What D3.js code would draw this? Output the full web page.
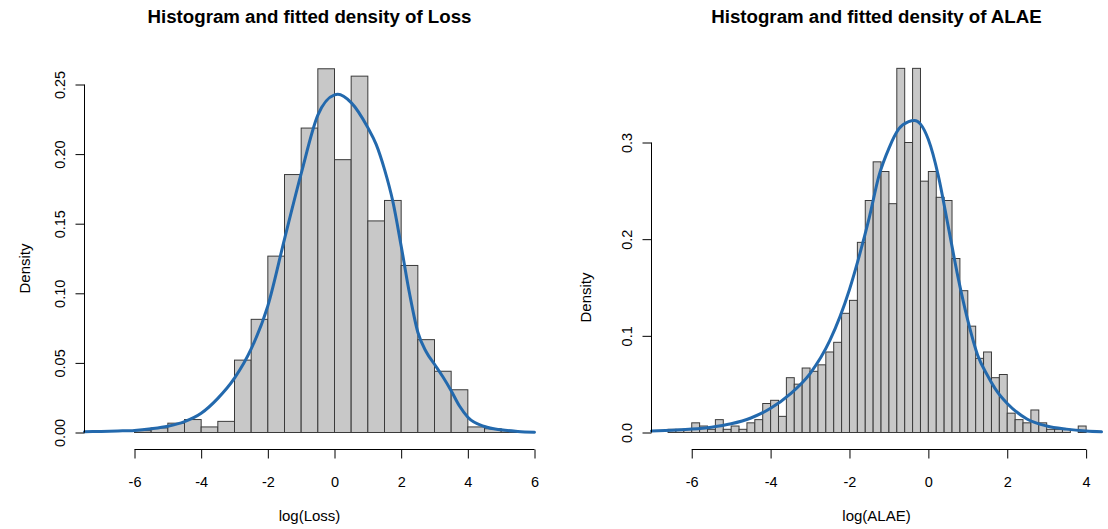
<!DOCTYPE html>
<html><head><meta charset="utf-8">
<script src="https://cdn.jsdelivr.net/npm/d3@7"></script>
<style>
body{margin:0;background:#fff}
svg{display:block}
text{font-family:"Liberation Sans",Arial,Helvetica,sans-serif;fill:#000}
</style>
</head><body>
<svg id="chart" width="1108" height="529"></svg>
<script>
// ---------- Data: Loss ----------
const lossBinStart = [-6,-5.5,-5,-4.5,-4,-3.5,-3,-2.5,-2,-1.5,-1,-0.5,0,0.5,1,1.5,2,2.5,3,3.5,4,4.5,5];
const lossDensity  = [0.0013,0.0033,0.0067,0.0093,0.0040,0.0080,0.0520,0.0813,0.1267,0.1853,0.2187,0.2613,0.1960,0.2560,0.1520,0.1667,0.1200,0.0667,0.0440,0.0307,0.0040,0.0027,0.0013];
const lossBinWidth = 0.5;
const lossCurveX = [-7.5,-7,-6.5,-6,-5.5,-5,-4.5,-4,-3.5,-3,-2.5,-2,-1.5,-1,-0.5,0,0.1,0.5,1,1.25,1.5,1.75,2,2.25,2.5,2.75,3,3.25,3.5,3.75,4,4.5,5,5.5,6];
const lossCurveY = [0.0005,0.0008,0.0011,0.0015,0.0027,0.0045,0.0078,0.0138,0.0245,0.039,0.06,0.091,0.139,0.186,0.228,0.2426,0.243,0.237,0.219,0.207,0.189,0.166,0.134,0.1,0.072,0.058,0.049,0.04,0.03,0.019,0.011,0.0043,0.0019,0.0008,0.0002];
const lossTicksX = [-6,-4,-2,0,2,4,6];
const lossTicksY = [0,0.05,0.10,0.15,0.20,0.25];

// ---------- Data: ALAE ----------
const alaeBinStart = [-6.6,-6.4,-6.2,-6.0,-5.8,-5.6,-5.4,-5.2,-5.0,-4.8,-4.6,-4.4,-4.2,-4.0,-3.8,-3.6,-3.4,-3.2,-3.0,-2.8,-2.6,-2.4,-2.2,-2.0,-1.8,-1.6,-1.4,-1.2,-1.0,-0.8,-0.6,-0.4,-0.2,0.0,0.2,0.4,0.6,0.8,1.0,1.2,1.4,1.6,1.8,2.0,2.2,2.4,2.6,2.8,3.0,3.2,3.4,3.6,3.8];
const alaeDensity  = [0.0033,0.0033,0.0033,0.0100,0.0067,0.0033,0.0133,0.0033,0.0067,0.0033,0.0100,0.0133,0.0300,0.0333,0.0167,0.0567,0.0500,0.0667,0.0633,0.0700,0.0833,0.0933,0.1233,0.1367,0.1967,0.2400,0.2800,0.2700,0.2367,0.3767,0.3000,0.3767,0.2600,0.2700,0.2433,0.2400,0.1800,0.1467,0.1100,0.0767,0.0833,0.0567,0.0600,0.0200,0.0133,0.0100,0.0233,0.0100,0.0033,0.0033,0.0033,0,0.0067];
const alaeBinWidth = 0.2;
const alaeCurveX = [-7.02,-6.5,-6,-5.5,-5,-4.5,-4,-3.5,-3,-2.5,-2,-1.75,-1.5,-1.25,-1,-0.75,-0.5,-0.35,-0.2,0,0.25,0.5,0.75,1,1.25,1.5,1.75,2,2.5,3,3.5,4,4.39];
const alaeCurveY = [0.0015,0.0024,0.0035,0.0055,0.009,0.015,0.025,0.04,0.061,0.095,0.148,0.183,0.222,0.266,0.294,0.314,0.3215,0.3227,0.319,0.303,0.266,0.214,0.161,0.116,0.08,0.059,0.042,0.03,0.014,0.0068,0.0035,0.0015,0.0007];
const alaeTicksX = [-6,-4,-2,0,2,4];
const alaeTicksY = [0,0.1,0.2,0.3];

const titles = ["Histogram and fitted density of Loss","Histogram and fitted density of ALAE"];
const xLabels = ["log(Loss)","log(ALAE)"];
const yLabel = "Density";

// ---------- Drawing ----------
const svg = d3.select("#chart");
const BAR_FILL = "#c8c8c8", BAR_STROKE = "#3a3a3a", CURVE = "#2369ad";

function panel(cfg){
  const g = svg.append("g");
  const x = d3.scaleLinear().domain(cfg.xDomain).range(cfg.xRange);
  const y = d3.scaleLinear().domain([0, cfg.yTicks[cfg.yTicks.length-1]]).range(cfg.yRange);
  const bins = cfg.binStart.map((s,i)=>({s, d: cfg.density[i]}));

  g.selectAll("rect.bar").data(bins).join("rect")
    .attr("class","bar")
    .attr("x", d=>x(d.s))
    .attr("width", d=>x(d.s+cfg.binWidth)-x(d.s))
    .attr("y", d=>y(d.d))
    .attr("height", d=>y(0)-y(d.d))
    .attr("fill", BAR_FILL)
    .attr("stroke", BAR_STROKE)
    .attr("stroke-width", 1);

  const pts = cfg.curveX.map((v,i)=>[v, cfg.curveY[i]]);
  const line = d3.line().x(d=>x(d[0])).y(d=>y(d[1])).curve(d3.curveMonotoneX);
  g.append("path").datum(pts).attr("d", line)
    .attr("fill","none").attr("stroke",CURVE).attr("stroke-width",3)
    .attr("stroke-linejoin","round").attr("stroke-linecap","round");

  // x axis
  const xAxisY = 449.5;
  const xa = g.append("g").attr("transform",`translate(0,${xAxisY})`)
    .call(d3.axisBottom(x).tickValues(cfg.xTicks).tickSize(9).tickFormat(d3.format("d")));
  xa.select(".domain").remove();
  xa.append("line").attr("x1", x(cfg.xTicks[0])).attr("x2", x(cfg.xTicks[cfg.xTicks.length-1]))
    .attr("stroke","#000");
  xa.selectAll(".tick line").attr("stroke","#000");
  xa.selectAll(".tick text").attr("y", 37).attr("dy", 0)
    .style("font-size","14.5px").style("font-family",'"Liberation Sans",Arial,sans-serif').attr("fill","#000")
    .text(d => d < 0 ? "-" + Math.abs(d) : String(d));

  // y axis
  const axX = cfg.xRange[0];
  const ya = g.append("g").attr("transform",`translate(${axX},0)`)
    .call(d3.axisLeft(y).tickValues(cfg.yTicks).tickSize(9).tickFormat(d3.format(cfg.yFmt)));
  ya.select(".domain").remove();
  ya.append("line").attr("y1", y(cfg.yTicks[0])).attr("y2", y(cfg.yTicks[cfg.yTicks.length-1]))
    .attr("stroke","#000");
  ya.selectAll(".tick line").attr("stroke","#000");
  ya.selectAll(".tick text")
    .attr("x", null).attr("dy", 0)
    .attr("transform","translate(-20,0) rotate(-90)")
    .attr("text-anchor","middle")
    .style("font-size","14.5px").style("font-family",'"Liberation Sans",Arial,sans-serif').attr("fill","#000");

  const cx = (cfg.xRange[0]+cfg.xRange[1])/2;
  g.append("text").attr("x", cx).attr("y", 23).attr("text-anchor","middle")
    .style("font-size","18.7px").style("font-weight","bold").text(cfg.title);
  g.append("text").attr("x", cx).attr("y", 521).attr("text-anchor","middle")
    .style("font-size","15px").text(cfg.xLabel);
  g.append("text").attr("transform",`translate(${cfg.yLabX},${(cfg.yRange[0]+cfg.yRange[1])/2 + 10}) rotate(-90)`)
    .attr("text-anchor","middle").style("font-size","15px").text(yLabel);
}

panel({
  xDomain:[-7.5,6], xRange:[84.5,534.5], yRange:[432.5,84.5],
  binStart:lossBinStart, density:lossDensity, binWidth:lossBinWidth,
  curveX:lossCurveX, curveY:lossCurveY, xTicks:lossTicksX, yTicks:lossTicksY,
  yFmt:".2f", title:titles[0], xLabel:xLabels[0], yLabX:30
});
panel({
  xDomain:[-7.02,4.39], xRange:[651.5,1101.5], yRange:[432.5,142.5],
  binStart:alaeBinStart, density:alaeDensity, binWidth:alaeBinWidth,
  curveX:alaeCurveX, curveY:alaeCurveY, xTicks:alaeTicksX, yTicks:alaeTicksY,
  yFmt:".1f", title:titles[1], xLabel:xLabels[1], yLabX:591
});
</script>
</body></html>
